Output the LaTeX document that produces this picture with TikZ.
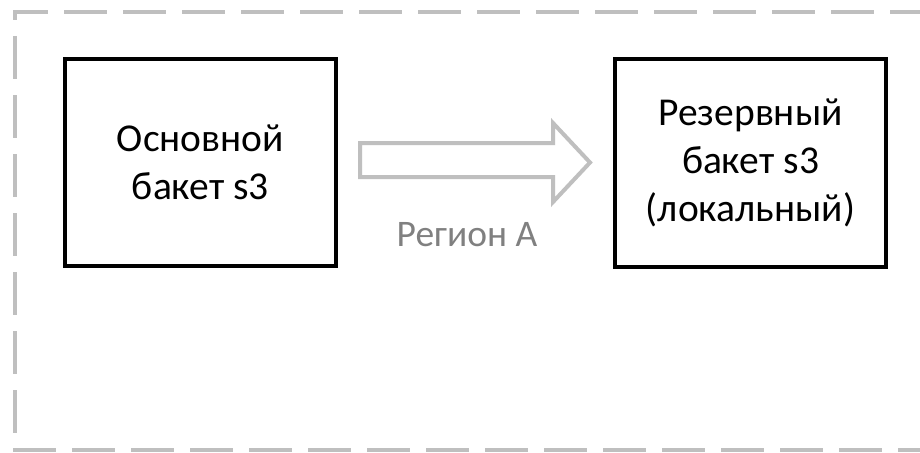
\documentclass[tikz,border=0pt]{standalone}
\usepackage{fontspec}
\setmainfont{Carlito}
\definecolor{framegray}{HTML}{BFBFBF}
\definecolor{labelgray}{HTML}{808080}
\begin{document}
\begin{tikzpicture}[x=1pt,y=-1pt,
  bucket/.style={draw=black,line width=4.5pt,fill=white,align=center,
    font=\fontsize{39.5}{48}\selectfont,inner sep=0pt},
  region/.style={draw=framegray,line width=4pt,
    dash pattern=on 43pt off 16pt},
  blockarrow/.style={draw=framegray,line width=4pt,fill=white,line join=miter},
  caption/.style={text=labelgray,font=\fontsize{37.5}{46}\selectfont,inner sep=0pt}]
  \useasboundingbox (0,0) rectangle (920,452);
  \clip (0,0) rectangle (920,452);

  % dashed region frame, drawn side by side to control the dash phase
  \draw[region,dash phase=8pt]  (13,12) -- (940,12);
  \draw[region,dash phase=35pt] (15,12) -- (15,450);
  \draw[region]                 (13,450) -- (940,450);

  % buckets
  \node[bucket,minimum width=271pt,minimum height=207pt] (main)
    at (200.5,162.5) {Основной\\бакет s3};
  \node[bucket,minimum width=271pt,minimum height=208pt] (backup)
    at (750.5,163) {Резервный\\бакет s3\\(локальный)};

  % replication block arrow
  \coordinate (tail) at (360,160);
  \coordinate (tip) at (590,162.5);
  \draw[blockarrow] (tail |- 0,143) -- (553,143) -- (553,123) -- (tip)
    -- (553,202) -- (553,177) -- (tail |- 0,177) -- cycle;

  \node[caption] (regionA) at (467,235) {Регион А};
\end{tikzpicture}
\end{document}
